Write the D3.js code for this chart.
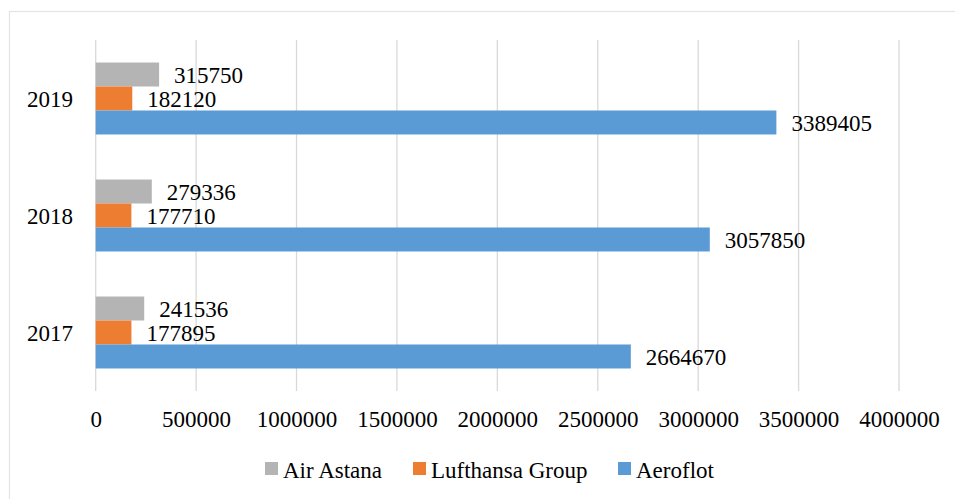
<!DOCTYPE html>
<html>
<head>
<meta charset="utf-8">
<script src="https://cdn.jsdelivr.net/npm/d3@7"></script>
<style>
  html, body { margin: 0; padding: 0; background: #fff; }
  svg { display: block; font-family: "Liberation Serif", "Times New Roman", serif; }
</style>
</head>
<body>
<svg id="chart" width="955" height="499"></svg>
<script>
const years = ["2019", "2018", "2017"];
const seriesNames = ["Air Astana", "Lufthansa Group", "Aeroflot"];
const seriesColors = ["#b4b4b4", "#ed7d31", "#5b9bd5"];
const airAstana = [315750, 279336, 241536];
const lufthansa = [182120, 177710, 177895];
const aeroflot = [3389405, 3057850, 2664670];
const xTicks = [0, 500000, 1000000, 1500000, 2000000, 2500000, 3000000, 3500000, 4000000];

const seriesValues = [airAstana, lufthansa, aeroflot];
const svg = d3.select("#chart");
const W = 955, H = 499;

// outer frame
svg.append("rect").attr("x", 9.5).attr("y", 11.5).attr("width", W + 10).attr("height", H + 10)
  .attr("fill", "none").attr("stroke", "#e3e3e3").attr("stroke-width", 1.2);

const x = d3.scaleLinear().domain([0, 4000000]).range([95.7, 899]);
const y = d3.scaleBand().domain(years).range([40, 391]).paddingInner(0.385).paddingOuter(0.1925);
const ys = d3.scaleBand().domain(seriesNames).range([0, y.bandwidth()]);

// gridlines
svg.append("g").selectAll("line").data(xTicks).join("line")
  .attr("x1", d => x(d)).attr("x2", d => x(d))
  .attr("y1", 40).attr("y2", 391)
  .attr("stroke", "#d9d9d9").attr("stroke-width", 1.3);

// x axis labels
const xAxis = d3.axisBottom(x).tickValues(xTicks).tickFormat(d3.format("d")).tickSize(0).tickPadding(0);
const gx = svg.append("g").attr("transform", "translate(0,419)").call(xAxis);
gx.select(".domain").remove();
gx.selectAll("text").attr("font-size", 23).attr("font-family", "Liberation Serif")
  .attr("fill", "#000").attr("dy", "0.35em").attr("y", 0);

// y axis labels
const yAxis = d3.axisLeft(y).tickSize(0).tickPadding(0);
const gy = svg.append("g").attr("transform", "translate(73,0)").call(yAxis);
gy.select(".domain").remove();
gy.selectAll("text").attr("font-size", 23).attr("font-family", "Liberation Serif")
  .attr("fill", "#000").attr("dy", "0.38em").attr("x", 0);

// bars
const groups = svg.append("g").selectAll("g").data(years).join("g")
  .attr("transform", d => `translate(0,${y(d)})`);

groups.each(function(yr, i) {
  const g = d3.select(this);
  seriesNames.forEach((s, j) => {
    const v = seriesValues[j][i];
    g.append("rect")
      .attr("x", x(0)).attr("y", ys(s))
      .attr("width", x(v) - x(0)).attr("height", ys.bandwidth())
      .attr("fill", seriesColors[j]);
    g.append("text")
      .attr("x", x(v) + 15).attr("y", ys(s) + ys.bandwidth() / 2)
      .attr("dy", "0.36em")
      .attr("font-size", 23).attr("fill", "#000")
      .text(v);
  });
});

// legend
const legendX = [265, 413, 618];
const lg = svg.append("g").selectAll("g").data(seriesNames).join("g")
  .attr("transform", (d, i) => `translate(${legendX[i]},462)`);
lg.append("rect").attr("width", 13).attr("height", 13).attr("fill", (d, i) => seriesColors[i]);
lg.append("text").attr("x", 18).attr("y", 15.5).attr("font-size", 23).attr("fill", "#000").text(d => d);
</script>
</body>
</html>
